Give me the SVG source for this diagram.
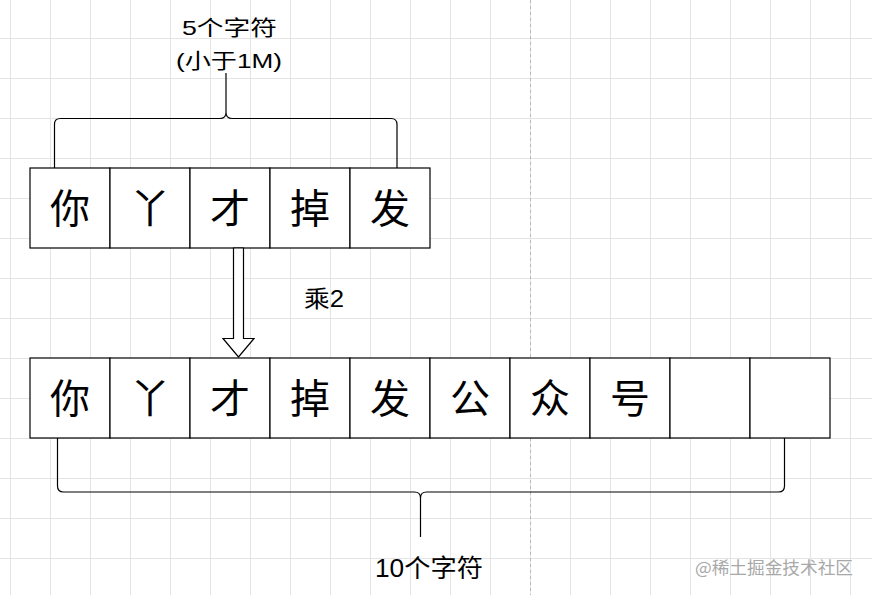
<svg xmlns="http://www.w3.org/2000/svg" width="872" height="595" viewBox="0 0 872 595">
  <defs>
    <pattern id="grid" x="10" y="38" width="40" height="40" patternUnits="userSpaceOnUse">
      <path d="M0.5,0 V40 M0,0.5 H40" fill="none" stroke="#e4e4e4" stroke-width="1"/>
    </pattern>
  </defs>
  <style>
    .cell { fill: #ffffff; stroke: #000000; stroke-width: 1.2; }
    .ch { font-family: "Noto Sans CJK SC", "Liberation Sans", sans-serif; font-size: 40px; fill: #000; text-anchor: middle; }
    .lbl { font-family: "Liberation Sans", "Noto Sans CJK SC", sans-serif; font-size: 21px; fill: #000; }
    .brace { fill: none; stroke: #000; stroke-width: 1.2; }
    .wm { font-family: "Noto Sans CJK SC", "Liberation Sans", sans-serif; font-size: 17px; fill: #a8a8a8; }
  </style>
  <rect x="0" y="0" width="872" height="595" fill="#ffffff"/>
  <rect x="0" y="0" width="872" height="595" fill="url(#grid)"/>
  <line x1="530.5" y1="0" x2="530.5" y2="595" stroke="#b8b8b8" stroke-width="1" stroke-dasharray="3 3"/>

  <g id="top-row">
    <g id="t1"><rect class="cell" x="30" y="168" width="80" height="80"/><text class="ch" x="70" y="223">你</text></g>
    <g id="t2"><rect class="cell" x="110" y="168" width="80" height="80"/><text class="ch" x="150" y="223">丫</text></g>
    <g id="t3"><rect class="cell" x="190" y="168" width="80" height="80"/><text class="ch" x="230" y="223">才</text></g>
    <g id="t4"><rect class="cell" x="270" y="168" width="80" height="80"/><text class="ch" x="310" y="223">掉</text></g>
    <g id="t5"><rect class="cell" x="350" y="168" width="80" height="80"/><text class="ch" x="390" y="223">发</text></g>
  </g>

  <g id="bottom-row">
    <g id="b1"><rect class="cell" x="30" y="358" width="80" height="80"/><text class="ch" x="70" y="413">你</text></g>
    <g id="b2"><rect class="cell" x="110" y="358" width="80" height="80"/><text class="ch" x="150" y="413">丫</text></g>
    <g id="b3"><rect class="cell" x="190" y="358" width="80" height="80"/><text class="ch" x="230" y="413">才</text></g>
    <g id="b4"><rect class="cell" x="270" y="358" width="80" height="80"/><text class="ch" x="310" y="413">掉</text></g>
    <g id="b5"><rect class="cell" x="350" y="358" width="80" height="80"/><text class="ch" x="390" y="413">发</text></g>
    <g id="b6"><rect class="cell" x="430" y="358" width="80" height="80"/><text class="ch" x="470" y="413">公</text></g>
    <g id="b7"><rect class="cell" x="510" y="358" width="80" height="80"/><text class="ch" x="550" y="413">众</text></g>
    <g id="b8"><rect class="cell" x="590" y="358" width="80" height="80"/><text class="ch" x="630" y="413">号</text></g>
    <g id="b9"><rect class="cell" x="670" y="358" width="80" height="80"/></g>
    <g id="b10"><rect class="cell" x="750" y="358" width="80" height="80"/></g>
  </g>

  <g id="label-top">
    <text class="lbl" x="182" y="35" textLength="95" lengthAdjust="spacingAndGlyphs">5个字符</text>
    <text class="lbl" x="176" y="68" textLength="106" lengthAdjust="spacingAndGlyphs">(小于1M)</text>
  </g>
  <g id="label-mult">
    <text class="lbl" x="304" y="307" style="font-size:23px" textLength="40" lengthAdjust="spacingAndGlyphs">乘2</text>
  </g>
  <g id="label-bottom">
    <text class="lbl" x="375" y="577" style="font-size:25px" textLength="108" lengthAdjust="spacingAndGlyphs">10个字符</text>
  </g>

  <g id="connectors">
    <path class="brace" d="M54.5,168 V124 Q54.5,118.5 60.5,118.5 H220 Q226,118.5 226,112.5 V73 M226,112.5 Q226,118.5 232,118.5 H391 Q397,118.5 397,124.5 V168"/>
    <path class="brace" d="M57.5,438 V486 Q57.5,492 63.5,492 H414.5 Q420.5,492 420.5,498 V537 M420.5,498 Q420.5,492 426.5,492 H778.5 Q784.5,492 784.5,486 V438"/>
    <path d="M233.5,248 H243.5 V338.5 H254 L238.5,357 L223,338.5 H233.5 Z" fill="#ffffff" stroke="#000" stroke-width="1.2" stroke-linejoin="miter"/>
  </g>

  <text class="wm" x="695" y="574" textLength="158" lengthAdjust="spacingAndGlyphs">@稀土掘金技术社区</text>
</svg>
